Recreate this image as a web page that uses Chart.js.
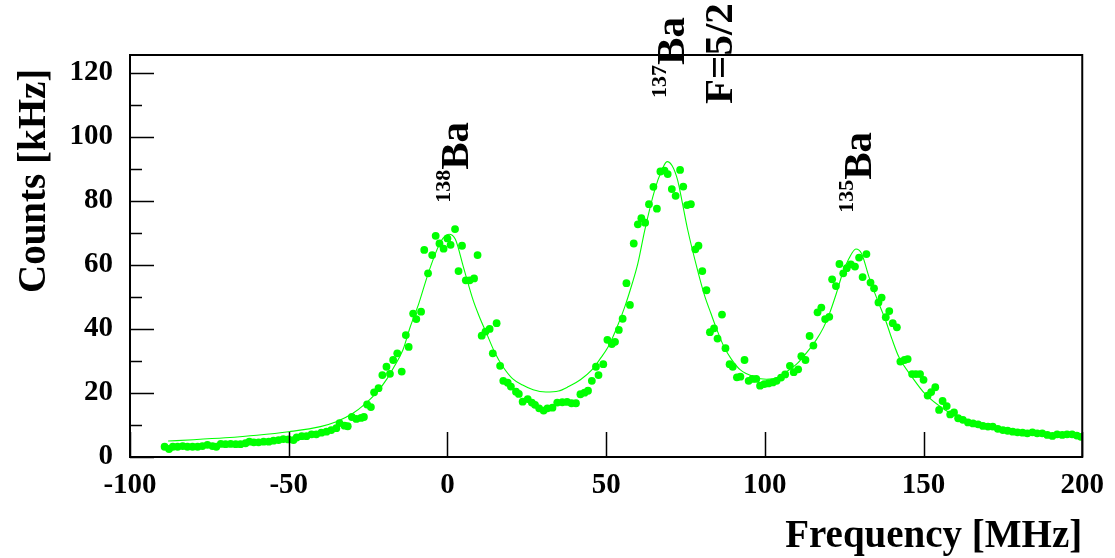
<!DOCTYPE html>
<html lang="en">
<head>
    <meta charset="UTF-8">
    <title>Ba isotopes - fluorescence spectrum</title>
    <script src="https://cdn.jsdelivr.net/npm/chart.js"></script>
    <style>
        html, body { margin: 0; padding: 0; background: #ffffff; }
        #wrap { width: 1115px; height: 558px; }
    </style>
</head>
<body>
<div id="wrap"><canvas id="spectrum"></canvas></div>
<script>
// measured points: frequency [MHz] and counts [kHz]
const freq = [
    -89.1, -87.7, -86.5, -85.0, -83.4, -81.9, -80.3, -78.7, -77.2, -75.6,
    -74.0, -72.8, -71.4, -69.9, -68.3, -66.7, -65.2, -63.6, -62.4, -61.0,
    -59.5, -57.9, -56.3, -54.8, -53.2, -51.7, -50.1, -48.5, -47.5, -45.9,
    -44.4, -42.8, -41.3, -39.7, -38.1, -36.6, -35.0, -34.0, -32.4, -31.4,
    -30.1, -28.7, -27.2, -26.3, -25.3, -24.1, -23.1, -21.7, -20.5, -19.2,
    -18.1, -17.1, -15.8, -14.4, -13.1, -12.2, -10.8, -9.8, -8.3, -7.3,
    -6.1, -4.8, -3.7, -2.5, -1.2, 0.0, 1.0, 2.4, 3.5, 4.6,
    5.8, 7.0, 8.4, 9.5, 10.8, 12.0, 13.3, 14.3, 15.5, 16.6,
    17.6, 19.0, 20.0, 21.6, 22.5, 23.7, 25.3, 26.6, 27.6, 28.9,
    30.3, 31.5, 33.1, 34.6, 36.2, 37.7, 39.1, 40.5, 41.9, 43.2,
    44.3, 45.5, 46.8, 47.6, 49.1, 50.4, 51.8, 52.8, 54.0, 55.2,
    56.4, 57.5, 58.7, 60.0, 61.1, 62.3, 63.5, 64.9, 66.0, 67.1,
    68.4, 69.4, 70.7, 71.9, 73.3, 74.3, 75.5, 76.7, 78.1, 79.1,
    80.3, 81.6, 82.7, 84.0, 85.1, 86.5, 87.6, 88.9, 89.9, 91.2,
    92.3, 93.6, 94.9, 96.1, 97.3, 98.5, 99.8, 101.1, 102.5, 103.7,
    105.1, 106.4, 107.9, 109.1, 110.5, 111.5, 112.8, 114.1, 115.3, 116.6,
    117.8, 119.0, 120.3, 121.2, 122.4, 123.5, 124.7, 125.8, 127.1, 128.4,
    129.7, 130.8, 132.0, 133.3, 134.4, 135.8, 136.8, 138.1, 139.2, 140.3,
    141.6, 142.7, 144.0, 145.0, 146.4, 147.6, 148.9, 150.0, 151.3, 152.4,
    153.7, 154.9, 156.0, 157.3, 158.4, 159.6, 160.9, 162.4, 164.0, 165.6,
    167.2, 168.7, 170.3, 171.8, 173.4, 175.0, 176.5, 178.1, 179.6, 181.2,
    182.7, 184.3, 185.8, 187.4, 189.0, 190.6, 192.1, 193.7, 195.2, 196.8,
    198.3, 199.6
];
const counts = [
    3.2, 2.5, 3.2, 3.2, 3.4, 3.2, 3.2, 3.2, 3.4, 3.8,
    3.4, 3.2, 4.1, 4.0, 4.1, 4.0, 4.0, 4.3, 4.8, 4.6,
    4.6, 4.8, 4.8, 5.1, 5.3, 5.6, 5.5, 5.3, 6.1, 6.5,
    6.5, 7.1, 7.1, 7.6, 7.9, 8.4, 9.0, 10.6, 9.8, 9.6,
    12.5, 11.9, 12.2, 12.5, 16.4, 15.6, 20.2, 21.5, 25.6, 28.2,
    26.0, 30.3, 32.4, 26.7, 38.1, 34.4, 44.8, 43.1, 45.4, 64.7,
    57.4, 63.1, 69.1, 66.7, 65.1, 68.3, 66.3, 71.2, 58.1, 66.0,
    55.2, 55.2, 55.8, 63.1, 37.9, 39.2, 40.0, 32.4, 41.8, 28.5,
    23.8, 23.2, 22.0, 20.4, 19.7, 17.3, 18.1, 17.0, 16.3, 15.2,
    14.5, 15.2, 15.4, 17.0, 17.1, 17.2, 16.8, 16.8, 19.6, 20.1,
    20.7, 23.8, 28.2, 25.6, 29.0, 36.6, 35.3, 36.0, 39.7, 43.2,
    54.3, 47.5, 66.7, 72.7, 74.6, 73.2, 79.0, 84.4, 77.6, 89.2,
    89.5, 88.4, 83.7, 81.6, 89.7, 84.5, 78.7, 79.0, 64.9, 66.0,
    58.1, 52.1, 39.0, 40.2, 37.0, 44.5, 34.0, 29.0, 28.2, 24.9,
    25.1, 30.3, 23.8, 24.4, 24.4, 22.3, 22.8, 23.0, 23.3, 23.8,
    24.8, 25.8, 28.5, 26.5, 27.4, 31.5, 30.3, 37.8, 34.8, 45.2,
    46.7, 43.1, 43.8, 55.5, 53.4, 60.3, 57.4, 59.0, 60.2, 59.5,
    62.3, 56.2, 63.4, 54.5, 52.7, 48.3, 49.8, 43.7, 45.6, 41.8,
    40.5, 29.8, 30.3, 30.6, 25.9, 25.9, 25.9, 24.1, 19.2, 20.3,
    21.8, 14.7, 17.5, 15.9, 13.3, 13.9, 12.1, 11.6, 10.8, 10.5,
    10.2, 9.7, 9.5, 9.5, 8.8, 8.4, 8.2, 7.9, 7.7, 7.6,
    7.4, 7.7, 7.4, 7.4, 6.9, 6.6, 7.1, 6.9, 7.1, 7.1,
    6.7, 6.3
];

// fitted line
const fitFreq = [
    -88, -80, -70, -60, -50, -40, -35, -30, -26, -22,
    -19, -16.8, -14, -11.7, -9, -6.4, -4, -2, 0.5, 2.5,
    5, 8.1, 10, 12.3, 15, 17.5, 20.5, 23.7, 27, 31,
    35, 38.2, 42, 45.5, 48, 50.7, 53, 55.9, 58, 60,
    62.2, 65.3, 67.5, 69.2, 70.8, 72.5, 74, 75.7, 78.8, 81,
    83, 85, 87.1, 89.5, 92.3, 96.5, 100.5, 104, 106.9, 110,
    112.1, 116.2, 118.5, 120.4, 122.5, 124.5, 126.5, 128.7, 130.5, 132.8,
    135.5, 138, 140, 142.2, 146.3, 150.5, 156.8, 162, 170, 180,
    190, 200
];
const fitCounts = [
    5.0, 5.4, 6.0, 6.8, 7.9, 9.5, 11.0, 13.5, 16.5, 20.5,
    24.5, 28.2, 33.5, 40.7, 48.0, 56.3, 63.0, 67.5, 69.6, 68.0,
    59.5, 49.0, 44.0, 38.7, 32.5, 28.2, 24.5, 22.5, 21.0, 20.3,
    20.6, 22.0, 24.2, 27.2, 30.5, 34.5, 39.5, 47.0, 53.5, 60.5,
    71.0, 83.4, 89.5, 92.3, 91.0, 86.6, 79.5, 71.0, 58.4, 50.5,
    44.9, 39.5, 34.5, 30.5, 27.2, 25.1, 24.3, 24.8, 26.7, 29.0,
    31.3, 36.6, 40.5, 44.9, 51.0, 57.4, 62.0, 65.0, 63.5, 56.3,
    49.0, 42.8, 37.0, 31.3, 25.1, 19.7, 14.7, 12.0, 10.0, 8.3,
    7.3, 6.5
];

const xTicks = [-100, -50, 0, 50, 100, 150, 200];
const yTicks = [0, 20, 40, 60, 80, 100, 120];
const yMinorTicks = [10, 30, 50, 70, 90, 110];

// peak labels: isotope mass, text, anchor (baseline start) in axis units
const peakNames = [
    { mass: '138', text: 'Ba', x: 6.6, y: 79.4 },
    { mass: '137', text: 'Ba', x: 74.6, y: 112.2 },
    { mass: '', text: 'F=5/2', x: 89.6, y: 110.3 },
    { mass: '135', text: 'Ba', x: 133.3, y: 76.3 }
];

const serif = "'Liberation Serif', 'DejaVu Serif', serif";
const green = '#00ff00';

const decorations = {
    id: 'decorations',
    afterDraw(chart) {
        const ctx = chart.ctx;
        const a = chart.chartArea;
        const sx = chart.scales.x, sy = chart.scales.y;
        ctx.save();

        // frame
        ctx.strokeStyle = '#000';
        ctx.lineWidth = 2;
        ctx.strokeRect(a.left, a.top, a.right - a.left, a.bottom - a.top);

        // tick marks inside the frame
        ctx.lineWidth = 1.5;
        ctx.beginPath();
        yTicks.forEach(v => {
            const py = Math.round(sy.getPixelForValue(v)) + 0.5;
            ctx.moveTo(a.left, py); ctx.lineTo(a.left + 24, py);
        });
        yMinorTicks.forEach(v => {
            const py = Math.round(sy.getPixelForValue(v)) + 0.5;
            ctx.moveTo(a.left, py); ctx.lineTo(a.left + 12, py);
        });
        xTicks.forEach(v => {
            const px = Math.round(sx.getPixelForValue(v)) + 0.5;
            ctx.moveTo(px, a.bottom); ctx.lineTo(px, a.bottom - 25);
        });
        ctx.stroke();

        // axis titles
        ctx.fillStyle = '#000';
        ctx.font = 'bold 39px ' + serif;
        ctx.textAlign = 'right';
        ctx.textBaseline = 'alphabetic';
        ctx.fillText('Frequency [MHz]', a.right, 547);

        ctx.save();
        ctx.translate(45, 293);
        ctx.rotate(-Math.PI / 2);
        ctx.textAlign = 'left';
        ctx.fillText('Counts [kHz]', 0, 0);
        ctx.restore();

        // isotope labels, written bottom to top
        peakNames.forEach(p => {
            ctx.save();
            ctx.translate(sx.getPixelForValue(p.x), sy.getPixelForValue(p.y));
            ctx.rotate(-Math.PI / 2);
            ctx.textAlign = 'left';
            let off = 0;
            if (p.mass) {
                ctx.font = 'bold 22px ' + serif;
                ctx.fillText(p.mass, 0, -18);
                off = ctx.measureText(p.mass).width;
            }
            ctx.font = 'bold 41px ' + serif;
            ctx.fillText(p.text, off, 0);
            ctx.restore();
        });

        ctx.restore();
    }
};

new Chart(document.getElementById('spectrum'), {
    type: 'scatter',
    data: {
        datasets: [
            {
                label: 'data',
                data: freq.map((f, i) => ({ x: f, y: counts[i] })),
                backgroundColor: green,
                borderWidth: 0,
                pointRadius: 3.9,
                pointHoverRadius: 3.9
            },
            {
                label: 'fit',
                type: 'line',
                data: fitFreq.map((f, i) => ({ x: f, y: fitCounts[i] })),
                borderColor: green,
                borderWidth: 1.1,
                pointRadius: 0,
                fill: false,
                cubicInterpolationMode: 'monotone'
            }
        ]
    },
    options: {
        responsive: true,
        maintainAspectRatio: false,
        animation: false,
        layout: { padding: { top: 55, right: 23, left: 0, bottom: 0 } },
        plugins: {
            legend: { display: false },
            tooltip: { enabled: false }
        },
        scales: {
            x: {
                type: 'linear',
                min: -100,
                max: 200,
                afterBuildTicks: s => { s.ticks = xTicks.map(v => ({ value: v })); },
                afterFit: s => { s.height = 101; },
                grid: { display: false, drawTicks: false },
                border: { display: false },
                ticks: {
                    color: '#000',
                    padding: 11,
                    maxRotation: 0,
                    font: { family: serif, size: 29, weight: 'bold' }
                }
            },
            y: {
                type: 'linear',
                min: 0,
                max: 125.6,
                afterBuildTicks: s => { s.ticks = yTicks.map(v => ({ value: v })); },
                afterFit: s => { s.width = 130; },
                grid: { display: false, drawTicks: false },
                border: { display: false },
                ticks: {
                    color: '#000',
                    padding: 17,
                    font: { family: serif, size: 29, weight: 'bold' }
                }
            }
        }
    },
    plugins: [decorations]
});
</script>
</body>
</html>
